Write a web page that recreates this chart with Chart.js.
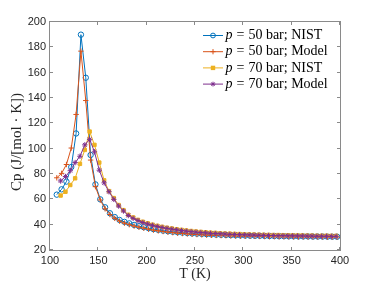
<!DOCTYPE html>
<html>
<head>
<meta charset="utf-8">
<script src="https://cdn.jsdelivr.net/npm/chart.js@4.4.1/dist/chart.umd.min.js"></script>
<style>
  html, body { margin: 0; padding: 0; background: #fff; }
  canvas { display: block; }
</style>
</head>
<body>
<canvas id="cpChart" width="376" height="282"></canvas>
<script>
// Temperature grids (K)
const T50 = [107, 112, 117, 122, 127, 132, 137, 142, 147, 152, 157, 162, 167, 172, 177, 182, 187, 192, 197, 202,
             207, 212, 217, 222, 227, 232, 237, 242, 247, 252, 257, 262, 267, 272, 277, 282, 287, 292, 297, 302,
             307, 312, 317, 322, 327, 332, 337, 342, 347, 352, 357, 362, 367, 372, 377, 382, 387, 392, 397];
const T70 = [111, 116, 121, 126, 131, 136, 141, 146, 151, 156, 161, 166, 171, 176, 181, 186, 191, 196, 201, 206,
             211, 216, 221, 226, 231, 236, 241, 246, 251, 256, 261, 266, 271, 276, 281, 286, 291, 296, 301, 306,
             311, 316, 321, 326, 331, 336, 341, 346, 351, 356, 361, 366, 371, 376, 381, 386, 391, 396];

// Cp values (J/[mol K])
const nist50 = [63.7, 67.9, 74, 85.5, 112, 190, 156, 95, 71.8, 60, 53.7, 49, 46, 43.7, 42.2, 41, 39.8, 38.8, 38, 37.2,
                36.5, 35.9, 35.3, 34.8, 34.4, 34, 33.7, 33.4, 33.1, 32.9, 32.7, 32.5, 32.3, 32.1, 32, 31.9, 31.7, 31.6, 31.5, 31.4,
                31.3, 31.2, 31.2, 31.1, 31, 31, 30.9, 30.9, 30.8, 30.8, 30.7, 30.7, 30.7, 30.6, 30.6, 30.6, 30.5, 30.5, 30.5];
const model50 = [77, 80.5, 87.5, 100.5, 127, 177, 138, 91, 70, 59.5, 52.5, 48, 45, 42.8, 41.2, 40, 38.9, 38, 37.2, 36.4,
                 35.7, 35.1, 34.6, 34.1, 33.7, 33.3, 33, 32.7, 32.4, 32.2, 32, 31.8, 31.6, 31.5, 31.4, 31.3, 31.2, 31.1, 31, 30.9,
                 30.9, 30.8, 30.7, 30.7, 30.6, 30.6, 30.5, 30.5, 30.5, 30.4, 30.4, 30.4, 30.3, 30.3, 30.3, 30.3, 30.2, 30.2, 30.2];
const nist70 = [63, 66, 71.3, 76.6, 88, 99, 113.5, 103, 89, 75, 66.5, 61, 55.5, 51.5, 47.8, 45.7, 43.8, 42.3, 41.1, 40,
                39.1, 38.3, 37.6, 37, 36.4, 35.9, 35.4, 35, 34.6, 34.3, 34, 33.7, 33.5, 33.2, 33, 32.9, 32.7, 32.6, 32.4, 32.3,
                32.2, 32.1, 32, 31.9, 31.8, 31.8, 31.7, 31.6, 31.6, 31.5, 31.5, 31.4, 31.4, 31.3, 31.3, 31.3, 31.2, 31.2];
const model70 = [74.5, 78, 82.6, 89, 94, 103, 107.4, 97.5, 83, 73, 66, 60, 54.7, 50.8, 47.2, 45, 43.2, 41.7, 40.5, 39.5,
                 38.6, 37.8, 37.1, 36.5, 35.9, 35.4, 34.9, 34.5, 34.1, 33.8, 33.5, 33.2, 33, 32.8, 32.6, 32.4, 32.3, 32.1, 32, 31.9,
                 31.8, 31.7, 31.6, 31.5, 31.4, 31.3, 31.3, 31.2, 31.2, 31.1, 31.1, 31, 31, 30.9, 30.9, 30.9, 30.8, 30.8];

const pressures = ['50', '50', '70', '70'];
const sources = ['NIST', 'Model', 'NIST', 'Model'];
const colors = ['#0072BD', '#D95319', '#EDB120', '#7E2F8E'];
const markers = ['circle', 'cross', 'rect', 'star'];

function toPoints(xs, ys) {
    return xs.map((t, i) => ({ x: t, y: ys[i] }));
}

const seriesData = [toPoints(T50, nist50), toPoints(T50, model50), toPoints(T70, nist70), toPoints(T70, model70)];

const datasets = seriesData.map((d, i) => ({
    label: 'p = ' + pressures[i] + ' bar; ' + sources[i],
    data: d,
    borderColor: colors[i],
    backgroundColor: colors[i],
    borderWidth: 1,
    pointStyle: markers[i],
    pointRadius: markers[i] === 'rect' ? 2.4 : 2.7,
    pointBorderWidth: 1,
    pointBorderColor: colors[i],
    pointBackgroundColor: markers[i] === 'circle' ? 'rgba(0,0,0,0)' : colors[i],
    tension: 0,
    fill: false,
    order: 4 - i
}));

// draw a small marker like the ones in the plot, for the legend
function drawMarker(ctx, style, x, y, color) {
    ctx.strokeStyle = color;
    ctx.fillStyle = color;
    ctx.lineWidth = 1;
    ctx.beginPath();
    if (style === 'circle') {
        ctx.arc(x, y, 2.4, 0, Math.PI * 2);
        ctx.stroke();
    } else if (style === 'cross') {
        ctx.moveTo(x - 2.6, y); ctx.lineTo(x + 2.6, y);
        ctx.moveTo(x, y - 2.6); ctx.lineTo(x, y + 2.6);
        ctx.stroke();
    } else if (style === 'rect') {
        ctx.fillRect(x - 2.2, y - 2.2, 4.4, 4.4);
    } else {
        const r = 2.4;
        ctx.moveTo(x - r, y); ctx.lineTo(x + r, y);
        ctx.moveTo(x, y - r); ctx.lineTo(x, y + r);
        ctx.moveTo(x - r * 0.7, y - r * 0.7); ctx.lineTo(x + r * 0.7, y + r * 0.7);
        ctx.moveTo(x - r * 0.7, y + r * 0.7); ctx.lineTo(x + r * 0.7, y - r * 0.7);
        ctx.stroke();
    }
}

const axesPlugin = {
    id: 'matlabAxes',
    afterDraw(chart) {
        const { ctx, chartArea: a, scales } = chart;
        const xs = scales.x, ys = scales.y;
        ctx.save();

        // box
        ctx.strokeStyle = '#8a8a8a';
        ctx.lineWidth = 1;
        ctx.strokeRect(a.left - 0.5, a.top - 0.5, a.right - a.left + 1, a.bottom - a.top + 1);

        // inward ticks on all sides
        ctx.beginPath();
        xs.ticks.forEach(t => {
            const px = Math.round(xs.getPixelForValue(t.value)) - 0.5;
            ctx.moveTo(px, a.bottom); ctx.lineTo(px, a.bottom - 3);
            ctx.moveTo(px, a.top); ctx.lineTo(px, a.top + 3);
        });
        ys.ticks.forEach(t => {
            const py = Math.round(ys.getPixelForValue(t.value)) - 0.5;
            ctx.moveTo(a.left, py); ctx.lineTo(a.left + 3, py);
            ctx.moveTo(a.right, py); ctx.lineTo(a.right - 3, py);
        });
        ctx.stroke();

        // axis titles
        ctx.fillStyle = '#262626';
        ctx.font = '14px "Liberation Serif"';
        ctx.textAlign = 'center';
        ctx.textBaseline = 'middle';
        ctx.fillText('T (K)', (a.left + a.right) / 2, 274);

        ctx.save();
        ctx.translate(17, 142);
        ctx.rotate(-Math.PI / 2);
        ctx.font = '15px "Liberation Serif"';
        ctx.fillText('Cp (J/[mol \u00B7 K])', 0, 0);
        ctx.restore();

        // legend
        ctx.textAlign = 'left';
        ctx.textBaseline = 'middle';
        datasets.forEach((ds, i) => {
            const ly = 35.5 + i * 16.2;
            ctx.strokeStyle = colors[i];
            ctx.lineWidth = 1;
            ctx.beginPath();
            ctx.moveTo(203, ly); ctx.lineTo(223, ly);
            ctx.stroke();
            drawMarker(ctx, markers[i], 213, ly, colors[i]);

            ctx.fillStyle = '#000';
            let tx = 225.5;
            ctx.font = 'italic 14px "Liberation Serif"';
            ctx.fillText('p', tx, ly);
            tx += ctx.measureText('p').width + 4;
            ctx.font = '14px "Liberation Serif"';
            ctx.fillText('=', tx, ly);
            tx += ctx.measureText('=').width + 4;
            ctx.fillText(pressures[i] + ' bar; ' + sources[i], tx, ly);
        });

        ctx.restore();
    }
};

const ctx = document.getElementById('cpChart').getContext('2d');
const cpChart = new Chart(ctx, {
    type: 'line',
    data: { datasets: datasets },
    options: {
        responsive: false,
        animation: false,
        layout: {
            padding: { left: 0, right: 36, top: 22, bottom: 0 }
        },
        scales: {
            x: {
                type: 'linear',
                min: 100,
                max: 400,
                afterFit: s => { s.height = 32; },
                grid: { display: false, drawTicks: false },
                border: { display: false },
                ticks: {
                    stepSize: 50,
                    autoSkip: false,
                    maxRotation: 0,
                    padding: 4,
                    color: '#262626',
                    font: { family: '"Liberation Sans"', size: 11 }
                }
            },
            y: {
                min: 20,
                max: 200,
                afterFit: s => { s.width = 50; },
                grid: { display: false, drawTicks: false },
                border: { display: false },
                ticks: {
                    stepSize: 20,
                    padding: 4,
                    color: '#262626',
                    font: { family: '"Liberation Sans"', size: 11 }
                }
            }
        },
        plugins: {
            legend: { display: false },
            tooltip: { enabled: false }
        }
    },
    plugins: [axesPlugin]
});
</script>
</body>
</html>
